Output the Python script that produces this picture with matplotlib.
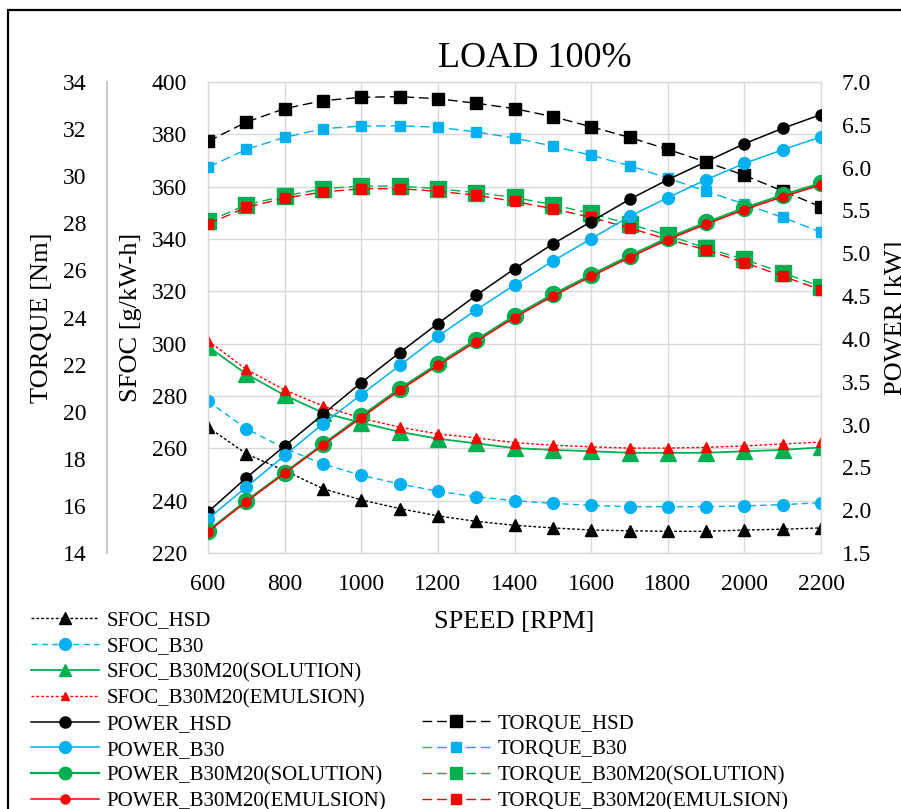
import matplotlib
matplotlib.use('Agg')
import matplotlib.pyplot as plt
from matplotlib.ticker import MultipleLocator, FormatStrFormatter
from matplotlib.patches import Rectangle

plt.rcParams['font.family'] = ['Liberation Serif', 'DejaVu Serif']

# ---------------- data ----------------
speed = [600, 700, 800, 900, 1000, 1100, 1200, 1300, 1400, 1500,
         1600, 1700, 1800, 1900, 2000, 2100, 2200]

sfoc_hsd = [268.1, 257.9, 251.5, 244.6, 240.3, 237.0, 234.2, 232.1, 230.6,
            229.6, 228.8, 228.5, 228.3, 228.3, 228.8, 229.1, 229.6]
sfoc_b30 = [278.0, 267.5, 260.0, 254.0, 249.7, 246.4, 243.6, 241.5, 240.0,
            239.0, 238.2, 237.7, 237.7, 237.7, 238.0, 238.5, 239.2]
sfoc_sol = [298.9, 288.4, 280.3, 273.6, 269.8, 266.3, 263.7, 261.9, 260.1,
            259.4, 258.9, 258.3, 258.3, 258.3, 258.9, 259.4, 260.4]
sfoc_emu = [301.1, 290.2, 282.3, 276.2, 271.5, 268.1, 265.5, 264.0, 262.2,
            261.2, 260.6, 260.1, 260.1, 260.4, 260.9, 261.7, 262.4]

power_hsd = [1.98, 2.38, 2.75, 3.12, 3.49, 3.84, 4.18, 4.51, 4.82, 5.11,
             5.37, 5.63, 5.86, 6.07, 6.28, 6.46, 6.62]
power_b30 = [1.90, 2.27, 2.64, 3.01, 3.35, 3.69, 4.03, 4.34, 4.63, 4.91,
             5.17, 5.43, 5.65, 5.86, 6.05, 6.21, 6.36]
power_sol = [1.76, 2.11, 2.44, 2.77, 3.10, 3.42, 3.71, 3.99, 4.27, 4.52,
             4.75, 4.97, 5.18, 5.36, 5.53, 5.68, 5.82]
power_emu = [1.75, 2.10, 2.43, 2.76, 3.08, 3.40, 3.69, 3.97, 4.25, 4.50,
             4.73, 4.95, 5.16, 5.34, 5.51, 5.66, 5.80]

torque_hsd = [31.48, 32.30, 32.87, 33.21, 33.35, 33.38, 33.29, 33.10, 32.87,
              32.53, 32.10, 31.65, 31.14, 30.60, 30.04, 29.37, 28.70]
torque_b30 = [30.38, 31.14, 31.65, 32.02, 32.13, 32.14, 32.08, 31.88, 31.62,
              31.28, 30.89, 30.45, 29.92, 29.36, 28.82, 28.25, 27.62]
torque_sol = [28.08, 28.79, 29.16, 29.47, 29.58, 29.58, 29.47, 29.30, 29.10,
              28.79, 28.42, 27.97, 27.49, 26.95, 26.47, 25.90, 25.31]
torque_emu = [27.97, 28.68, 29.07, 29.33, 29.47, 29.47, 29.36, 29.19, 28.93,
              28.62, 28.25, 27.80, 27.32, 26.87, 26.33, 25.76, 25.17]

sfoc_labels = ['SFOC_HSD', 'SFOC_B30', 'SFOC_B30M20(SOLUTION)', 'SFOC_B30M20(EMULSION)']
power_labels = ['POWER_HSD', 'POWER_B30', 'POWER_B30M20(SOLUTION)', 'POWER_B30M20(EMULSION)']
torque_labels = ['TORQUE_HSD', 'TORQUE_B30', 'TORQUE_B30M20(SOLUTION)', 'TORQUE_B30M20(EMULSION)']

BLACK = '#000000'
BLUE = '#00B0F0'
GREEN = '#00B050'
RED = '#FF0000'
GRID = '#D9D9D9'

# ---------------- figure ----------------
fig = plt.figure(figsize=(9.01, 8.09), dpi=100)
fig.patch.set_facecolor('white')

ax = fig.add_axes([0.2309, 0.3164, 0.6804, 0.5822])   # SFOC (left)
ax3 = ax.twinx()                                      # TORQUE (far left)
ax2 = ax.twinx()                                      # POWER (right)
ax.set_zorder(1)
ax3.set_zorder(2)
ax2.set_zorder(3)

TICK_FS = 17
LABEL_FS = 19

# SFOC series
l_s1, = ax.plot(speed, sfoc_hsd, color=BLACK, lw=1.0, dashes=(2, 1.5),
                marker='^', ms=8, mec=BLACK, mfc=BLACK, label=sfoc_labels[0])
l_s2, = ax.plot(speed, sfoc_b30, color=BLUE, lw=1.0, dashes=(4.5, 3),
                marker='o', ms=8.5, mec=BLUE, mfc=BLUE, label=sfoc_labels[1])
l_s3, = ax.plot(speed, sfoc_sol, color=GREEN, lw=1.3, linestyle='-',
                marker='^', ms=11.5, mec=GREEN, mfc=GREEN, label=sfoc_labels[2])
l_s4, = ax.plot(speed, sfoc_emu, color=RED, lw=1.0, dashes=(2, 1.5),
                marker='^', ms=7, mec=RED, mfc=RED, label=sfoc_labels[3])

# TORQUE series
l_t1, = ax3.plot(speed, torque_hsd, color=BLACK, lw=1.0, dashes=(7, 3.5),
                 marker='s', ms=9, mec=BLACK, mfc=BLACK, label=torque_labels[0])
l_t2, = ax3.plot(speed, torque_b30, color=BLUE, lw=1.0, dashes=(7, 3.5),
                 marker='s', ms=7, mec=BLUE, mfc=BLUE, label=torque_labels[1])
l_t3, = ax3.plot(speed, torque_sol, color=GREEN, lw=1.0, dashes=(7, 3.5),
                 marker='s', ms=11, mec=GREEN, mfc=GREEN, label=torque_labels[2])
l_t4, = ax3.plot(speed, torque_emu, color=RED, lw=1.0, dashes=(7, 3.5),
                 marker='s', ms=6.5, mec=RED, mfc=RED, label=torque_labels[3])

# POWER series
l_p1, = ax2.plot(speed, power_hsd, color=BLACK, lw=1.1, linestyle='-',
                 marker='o', ms=8, mec=BLACK, mfc=BLACK, label=power_labels[0])
l_p2, = ax2.plot(speed, power_b30, color=BLUE, lw=1.1, linestyle='-',
                 marker='o', ms=8.5, mec=BLUE, mfc=BLUE, label=power_labels[1])
l_p3, = ax2.plot(speed, power_sol, color=GREEN, lw=1.6, linestyle='-',
                 marker='o', ms=11.5, mec=GREEN, mfc=GREEN, label=power_labels[2])
l_p4, = ax2.plot(speed, power_emu, color=RED, lw=1.1, linestyle='-',
                 marker='o', ms=6.5, mec=RED, mfc=RED, label=power_labels[3])

# ---------------- axes styling ----------------
ax.set_xlim(600, 2200)
ax.set_ylim(220, 400)
ax.xaxis.set_major_locator(MultipleLocator(200))
ax.yaxis.set_major_locator(MultipleLocator(20))
ax.grid(True, color=GRID, lw=1.0)
ax.set_axisbelow(True)
for s in ax.spines.values():
    s.set_color(GRID)
    s.set_linewidth(1.0)
ax.tick_params(axis='both', length=0, labelsize=TICK_FS)
ax.tick_params(axis='x', pad=15)
ax.tick_params(axis='y', pad=15)

ax2.set_ylim(1.5, 7.0)
ax2.yaxis.set_major_locator(MultipleLocator(0.5))
ax2.yaxis.set_major_formatter(FormatStrFormatter('%.1f'))
ax2.tick_params(axis='y', length=0, labelsize=TICK_FS, pad=15)
for s in ax2.spines.values():
    s.set_visible(False)

ax3.set_ylim(14, 34)
ax3.yaxis.set_major_locator(MultipleLocator(2))
ax3.spines['left'].set_position(('axes', -0.1648))
ax3.spines['left'].set_visible(True)
ax3.spines['left'].set_color('#BFBFBF')
ax3.spines['left'].set_linewidth(1.2)
for k in ('right', 'top', 'bottom'):
    ax3.spines[k].set_visible(False)
ax3.yaxis.set_ticks_position('left')
ax3.yaxis.set_label_position('left')
ax3.tick_params(axis='y', length=0, labelsize=TICK_FS, pad=15)

# labels
ax.set_xlabel('SPEED [RPM]', fontsize=LABEL_FS)
ax.xaxis.set_label_coords(0.5, -0.124)
ax.set_ylabel('SFOC [g/kW-h]', fontsize=LABEL_FS, va='center')
ax.yaxis.set_label_coords(-0.1256, 0.5)
ax3.set_ylabel('TORQUE [Nm]', fontsize=LABEL_FS, va='center')
ax3.yaxis.set_label_coords(-0.2708, 0.5)
ax2.set_ylabel('POWER [kW]', fontsize=LABEL_FS, va='center', rotation=90)
ax2.yaxis.set_label_coords(1.1223, 0.5)

ax.set_title('LOAD 100%', fontsize=26, x=0.5326, pad=11)

# ---------------- legends ----------------
left_handles = [l_s1, l_s2, l_s3, l_s4, l_p1, l_p2, l_p3, l_p4]
leg_kw = dict(loc='upper left', frameon=False, fontsize=15, borderpad=0,
              borderaxespad=0, handlelength=3.27, handletextpad=0.34,
              labelspacing=0.30)
leg1 = fig.legend(handles=left_handles, labels=sfoc_labels + power_labels,
                  bbox_to_anchor=(31 / 901, 1 - 611 / 809), **leg_kw)
leg2 = fig.legend(handles=[l_t1, l_t2, l_t3, l_t4], labels=torque_labels,
                  bbox_to_anchor=(422 / 901, 1 - 714 / 809), **leg_kw)

# legend symbols are drawn at a uniform, smaller size
legend_ms = [8, 8.5, 9, 6, 8, 8.5, 9, 6.5]
for h, m in zip(leg1.legend_handles, legend_ms):
    h.set_markersize(m)
for h, m in zip(leg2.legend_handles, [8, 7, 8, 6.5]):
    h.set_markersize(m)

# chart-area border (extends past the right/bottom edges)
fig.patches.append(Rectangle((8 / 901, -0.1), 1.2, 1 - 10 / 809 + 0.1,
                             transform=fig.transFigure, fill=False,
                             edgecolor='black', lw=1.6, zorder=10))

fig.savefig('out.png', dpi=100, facecolor='white')
